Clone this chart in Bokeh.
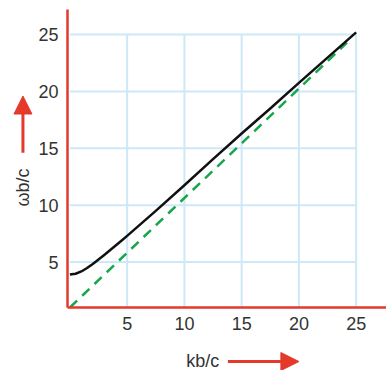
from bokeh.plotting import figure
from bokeh.models import FixedTicker, Arrow, NormalHead, Label, Range1d
from bokeh.embed import file_html
from bokeh.resources import INLINE

# data
ticks = [5, 10, 15, 20, 25]
k_curve = [0, 0.5, 1.0, 1.5, 2.0, 2.5, 3.0, 3.5, 4.0, 4.5, 5.0, 7.5, 10, 12.5, 15, 17.5, 20, 22.5, 25]
w_curve = [3.9, 3.97, 4.17, 4.47, 4.83, 5.22, 5.62, 6.03, 6.45, 6.87, 7.3, 9.5, 11.75, 14.05,
           16.3, 18.5, 20.75, 22.98, 25.2]
k_light = [0, 24.2]
w_light = [1.0, 24.3]
grid_lo = [0, 1.0]
grid_hi = 25
x_bounds = (-0.2, 27.7)
y_bounds = (1.0, 27.2)

RED = "#e5392b"
TXT = "#333333"
FONT = "Liberation Sans"

p = figure(width=386, height=370, output_backend="svg", toolbar_location=None,
           x_range=Range1d(-6.06, 27.65), y_range=Range1d(-4.54, 28.0),
           min_border=0)
p.outline_line_color = None
p.xgrid.visible = False
p.ygrid.visible = False

GRID = "#cde8f6"
p.segment(x0=ticks, y0=[grid_lo[1]] * len(ticks), x1=ticks, y1=[grid_hi] * len(ticks),
          line_color=GRID, line_width=2)
p.segment(x0=[grid_lo[0]] * len(ticks), y0=ticks, x1=[grid_hi] * len(ticks), y1=ticks,
          line_color=GRID, line_width=2)

p.line(k_light, w_light, line_color="#17a64b", line_width=2.5, line_dash="10 7")
p.line(k_curve, w_curve, line_color="#111111", line_width=2.5, line_join="round")

p.xaxis.fixed_location = y_bounds[0]
p.xaxis.bounds = x_bounds
p.yaxis.fixed_location = x_bounds[0]
p.yaxis.bounds = y_bounds

for ax in (p.xaxis[0], p.yaxis[0]):
    ax.ticker = FixedTicker(ticks=ticks)
    ax.axis_line_color = RED
    ax.axis_line_width = 2.5
    ax.major_tick_line_color = None
    ax.minor_tick_line_color = None
    ax.major_tick_out = 0
    ax.major_tick_in = 0
    ax.major_label_text_font = FONT
    ax.major_label_text_font_size = "18px"
    ax.major_label_text_color = TXT
    ax.major_label_standoff = 9

lab_x = Label(x=11.6, y=-3.7, text="kb/c", text_align="center", text_baseline="middle",
              text_font=FONT, text_font_size="18px", text_color=TXT)
lab_y = Label(x=-4.1, y=11.55, text="ωb/c", text_align="center", text_baseline="middle",
              angle=90, angle_units="deg",
              text_font=FONT, text_font_size="18px", text_color=TXT)
p.add_layout(lab_x)
p.add_layout(lab_y)

head1 = NormalHead(size=18, fill_color=RED, line_color=RED)
head2 = NormalHead(size=18, fill_color=RED, line_color=RED)
p.add_layout(Arrow(end=head1, x_start=13.8, y_start=-3.75, x_end=20.0, y_end=-3.75,
                   line_color=RED, line_width=3))
p.add_layout(Arrow(end=head2, x_start=-4.1, y_start=14.6, x_end=-4.1, y_end=19.6,
                   line_color=RED, line_width=3))

open("out.html", "w").write(file_html(p, INLINE))
